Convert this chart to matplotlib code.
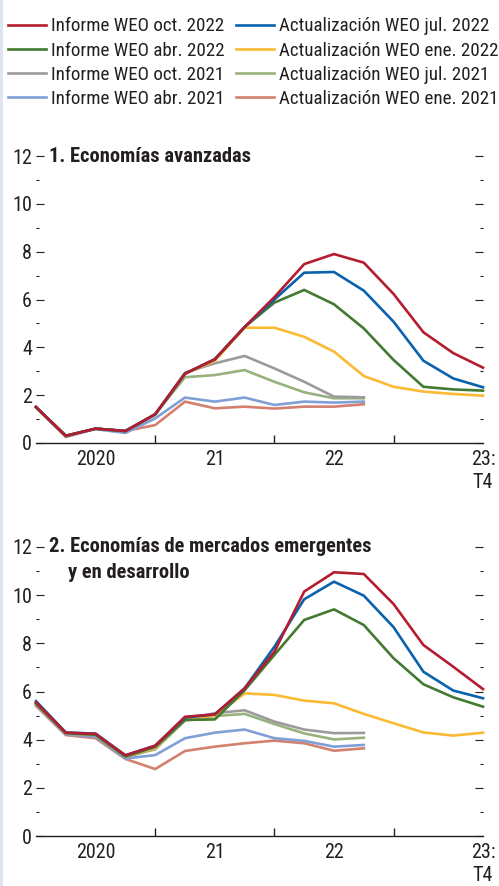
import numpy as np
import matplotlib
matplotlib.use("Agg")
import matplotlib.pyplot as plt
from matplotlib import font_manager as fm
from matplotlib.patches import Rectangle
from matplotlib.ticker import MultipleLocator, FixedLocator

# condensed sans, close to the Univers Condensed of the original
avail = {f.name for f in fm.fontManager.ttflist}
FONT = "DejaVu Sans"
for fam in ["Roboto Condensed", "IBM Plex Sans Condensed", "Barlow Semi Condensed"]:
    if fam in avail:
        FONT = fam
        break
plt.rcParams['font.family'] = [FONT, 'DejaVu Sans']

# ------------------ DATA ------------------
# quarters 2020:T1 .. 2023:T4
quarters = [2020 + k / 4 for k in range(16)]
year_ticks = [2020.5, 2021.5, 2022.5, 2023.75]
year_labels = ["2020", "21", "22", "23:\nT4"]

labels = [
    "Actualización WEO ene. 2021", "Informe WEO abr. 2021",
    "Actualización WEO jul. 2021", "Informe WEO oct. 2021",
    "Actualización WEO ene. 2022", "Informe WEO abr. 2022",
    "Actualización WEO jul. 2022", "Informe WEO oct. 2022",
]
colors = ["#d3806f", "#7f9fd5", "#98b27d", "#9b9b9b",
          "#fbb934", "#437a31", "#0a62ad", "#b41d30"]

# 1. Economías avanzadas
adv_ene21 = [1.5, 0.25, 0.6, 0.5, 0.75, 1.73, 1.45, 1.52, 1.44, 1.52, 1.52, 1.62]
adv_abr21 = [1.5, 0.28, 0.58, 0.42, 1.03, 1.9, 1.73, 1.9, 1.59, 1.73, 1.69, 1.73]
adv_jul21 = [1.5, 0.3, 0.6, 0.5, 1.2, 2.75, 2.84, 3.05, 2.56, 2.12, 1.87, 1.87]
adv_oct21 = [1.5, 0.3, 0.6, 0.5, 1.2, 2.94, 3.33, 3.64, 3.12, 2.56, 1.94, 1.91]
adv_ene22 = [1.5, 0.3, 0.6, 0.5, 1.2, 2.9, 3.43, 4.82, 4.82, 4.44, 3.82, 2.8, 2.35, 2.15, 2.05, 1.98]
adv_abr22 = [1.5, 0.3, 0.6, 0.5, 1.2, 2.9, 3.5, 4.85, 5.87, 6.4, 5.8, 4.79, 3.47, 2.35, 2.24, 2.19]
adv_jul22 = [1.5, 0.3, 0.6, 0.5, 1.2, 2.9, 3.5, 4.85, 6.0, 7.12, 7.15, 6.37, 5.07, 3.44, 2.7, 2.33]
adv_oct22 = [1.5, 0.3, 0.6, 0.5, 1.2, 2.9, 3.5, 4.85, 6.1, 7.48, 7.9, 7.54, 6.23, 4.63, 3.76, 3.15]

# 2. Economías de mercados emergentes y en desarrollo
em_ene21 = [5.4, 4.19, 4.06, 3.2, 2.78, 3.53, 3.71, 3.85, 3.96, 3.85, 3.54, 3.64]
em_abr21 = [5.45, 4.22, 4.12, 3.22, 3.36, 4.06, 4.29, 4.42, 4.06, 3.95, 3.71, 3.78]
em_jul21 = [5.5, 4.25, 4.2, 3.28, 3.6, 4.79, 4.98, 5.07, 4.65, 4.26, 4.01, 4.08]
em_oct21 = [5.5, 4.25, 4.2, 3.28, 3.65, 4.85, 5.1, 5.22, 4.75, 4.42, 4.27, 4.28]
em_ene22 = [5.5, 4.27, 4.2, 3.3, 3.65, 4.85, 5.0, 5.92, 5.86, 5.62, 5.51, 5.07, 4.68, 4.3, 4.17, 4.29]
em_abr22 = [5.5, 4.27, 4.2, 3.3, 3.7, 4.82, 4.84, 6.05, 7.52, 8.97, 9.41, 8.76, 7.38, 6.3, 5.76, 5.37]
em_jul22 = [5.6, 4.3, 4.25, 3.35, 3.75, 4.92, 5.05, 6.13, 7.86, 9.83, 10.56, 9.98, 8.67, 6.82, 6.04, 5.72]
em_oct22 = [5.55, 4.29, 4.24, 3.35, 3.75, 4.95, 5.05, 6.13, 7.65, 10.15, 10.95, 10.88, 9.63, 7.93, 7.03, 6.1]

adv_series = [adv_ene21, adv_abr21, adv_jul21, adv_oct21,
              adv_ene22, adv_abr22, adv_jul22, adv_oct22]
em_series = [em_ene21, em_abr21, em_jul21, em_oct21,
             em_ene22, em_abr22, em_jul22, em_oct22]

# ------------------ FIGURE ------------------
W, H = 499, 886
FS = 14.5      # ticks
FS_T = 14.8    # panel titles
FS_L = 13.7    # legend
fig = plt.figure(figsize=(W / 100, H / 100), dpi=100)
fig.patches.append(Rectangle((0, 0), 3 / W, 1, transform=fig.transFigure,
                             facecolor="#dde5f1", edgecolor="none"))

TXT = "#231f20"


def style_axes(ax):
    ax.set_xlim(2020, 2023.75)
    ax.set_ylim(0, 12)
    for s in ["top", "left", "right"]:
        ax.spines[s].set_visible(False)
    ax.spines["bottom"].set_color(TXT)
    ax.spines["bottom"].set_linewidth(1.0)
    ax.yaxis.set_major_locator(MultipleLocator(2))
    ax.yaxis.set_minor_locator(MultipleLocator(1))
    ax.tick_params(axis="y", which="both", direction="in", left=True, right=True,
                   colors=TXT, labelsize=FS, width=0.8, pad=3)
    ax.tick_params(axis="y", which="major", length=6)
    ax.tick_params(axis="y", which="minor", length=2)
    ax.xaxis.set_major_locator(FixedLocator([2021, 2022, 2023]))
    ax.xaxis.set_minor_locator(FixedLocator(year_ticks))
    ax.xaxis.set_minor_formatter(plt.FixedFormatter(year_labels))
    ax.tick_params(axis="x", which="major", direction="in", length=6, width=1.0,
                   colors=TXT, labelbottom=False)
    ax.tick_params(axis="x", which="minor", length=0, labelsize=FS, pad=5,
                   colors=TXT)
    for t in ax.xaxis.get_minorticklabels():
        t.set_linespacing(1.3)


def draw_panel(ax, series):
    lines = []
    for vals, c, lab in zip(series, colors, labels):
        ln, = ax.plot(quarters[:len(vals)], vals, color=c, lw=1.9,
                      label=lab, solid_joinstyle="round", clip_on=False)
        lines.append(ln)
    style_axes(ax)
    return lines


ax1 = fig.add_axes([36 / W, 443 / H, 447 / W, 287 / H])
lines = draw_panel(ax1, adv_series)
ax1.text(13 / 447, 12, "1. Economías avanzadas", transform=ax1.get_yaxis_transform(),
         fontsize=FS_T, fontweight="bold", color=TXT, va="center")

ax2 = fig.add_axes([36 / W, 50 / H, 447 / W, 289 / H])
draw_panel(ax2, em_series)
ax2.text(13 / 447, 12, "2. Economías de mercados emergentes",
         transform=ax2.get_yaxis_transform(), fontsize=FS_T, fontweight="bold",
         color=TXT, va="center")
ax2.text(32 / 447, 10.96, "y en desarrollo", transform=ax2.get_yaxis_transform(),
         fontsize=FS_T, fontweight="bold", color=TXT, va="center")

# legend: column 1 = Informes, column 2 = Actualizaciones
order = [7, 5, 3, 1, 6, 4, 2, 0]
leg = fig.legend([lines[i] for i in order], [labels[i] for i in order],
                 ncol=2, loc="upper left", bbox_to_anchor=(4 / W, 1 - 13.5 / H),
                 frameon=False, fontsize=FS_L, handlelength=2.0,
                 handletextpad=0.26, columnspacing=0.6, labelspacing=0.33,
                 borderaxespad=0, borderpad=0.2)
for t in leg.get_texts():
    t.set_color(TXT)

fig.savefig("out.png", dpi=100)
